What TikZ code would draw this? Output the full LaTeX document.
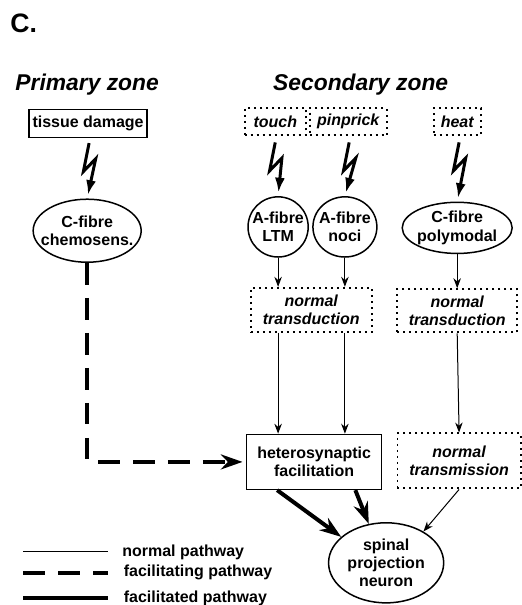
\documentclass[tikz,border=0pt]{standalone}
\usepackage{fontspec}
\setmainfont{Liberation Sans}
\usetikzlibrary{arrows.meta, shapes.geometric}

\begin{document}
\begin{tikzpicture}[
        font=\fontsize{9.6}{11}\selectfont\bfseries,
        solidbox/.style={draw, line width=0.9pt, inner sep=0pt, align=center},
        dotbox/.style={draw, line width=1.2pt, dash pattern=on 1.2pt off 2.4pt, inner sep=0pt, align=center, font=\fontsize{9.6}{11}\selectfont\bfseries\itshape},
        cell/.style={draw, ellipse, line width=0.9pt, inner xsep=-5pt, inner ysep=0pt, align=center},
        zone/.style={font=\fontsize{13.7}{16}\selectfont\bfseries\itshape, anchor=west, inner sep=0pt},
        bolt/.style={line width=1.8pt, -{Latex[length=9pt,width=6pt]}, shorten >=2pt},
        normal/.style={line width=0.6pt, -{Stealth[length=6pt,width=4.5pt]}},
        facilitating/.style={line width=2.4pt, dash pattern=on 13pt off 8pt},
        facilitated/.style={line width=2.4pt, -{Stealth[length=13pt,width=9pt]}},
    ]
        \useasboundingbox (0,0) rectangle (11.0,12.77);
        % Titles
        \node[anchor=west, inner sep=0pt, font=\fontsize{16}{18}\selectfont\bfseries] (panel) at (0.21,12.27) {C.};
        \node[zone] (primary) at (0.32,10.98) {Primary zone};
        \node[zone] (secondary) at (5.76,10.98) {Secondary zone};
        % Stimuli
        \node[solidbox, minimum width=2.49cm, minimum height=0.59cm] (tissue) at (1.86,10.16) {tissue damage};
        \node[dotbox, minimum width=1.29cm, minimum height=0.57cm] (touch) at (5.81,10.20) {touch};
        \node[dotbox, minimum width=1.63cm, minimum height=0.57cm] (pinprick) at (7.35,10.20) {pinprick};
        \node[dotbox, minimum width=0.99cm, minimum height=0.57cm] (heat) at (9.65,10.20) {heat};
        % Afferent fibres
        \node[cell, minimum width=2.28cm, minimum height=1.33cm] (chemo) at (1.84,7.90) {C-fibre\\chemosens.};
        \node[cell, minimum width=1.27cm, minimum height=1.27cm] (ltm) at (5.87,7.98) {A-fibre\\LTM};
        \node[cell, minimum width=1.35cm, minimum height=1.27cm] (noci) at (7.28,7.98) {A-fibre\\noci};
        \node[cell, minimum width=2.32cm, minimum height=1.08cm] (poly) at (9.65,7.96) {C-fibre\\polymodal};
        % Processing
        \node[dotbox, minimum width=2.55cm, minimum height=0.93cm] (trans1) at (6.57,6.23) {normal\\transduction};
        \node[dotbox, minimum width=2.53cm, minimum height=0.91cm] (trans2) at (9.65,6.21) {normal\\transduction};
        \node[solidbox, minimum width=2.85cm, minimum height=1.16cm] (hetero) at (6.63,3.02) {heterosynaptic\\facilitation};
        \node[dotbox, minimum width=2.6cm, minimum height=1.16cm] (transm) at (9.69,3.04) {normal\\transmission};
        \node[cell, minimum width=2.43cm, minimum height=1.69cm] (spinal) at (8.15,0.89) {spinal\\projection\\neuron};
        % Stimulus bolts
        \draw[bolt] (tissue.south) ++(0.02,-0.1) -- ++(-0.12,-0.6) -- ++(0.26,0.27) -- (chemo.north);
        \draw[bolt] (touch.south) ++(0,-0.13) -- ++(-0.12,-0.6) -- ++(0.26,0.27) -- (ltm.north);
        \draw[bolt] (pinprick.south) ++(0.02,-0.13) -- ++(-0.12,-0.6) -- ++(0.26,0.27) -- (noci.north);
        \draw[bolt] (heat.south) ++(0.04,-0.13) -- ++(-0.12,-0.6) -- ++(0.26,0.27) -- (poly.north);
        % Normal pathways
        \draw[normal] (ltm.south) -- (ltm.south |- trans1.north);
        \draw[normal] (noci.south) -- (noci.south |- trans1.north);
        \draw[normal] (poly.south) -- (trans2.north);
        \draw[normal] (ltm.south |- trans1.south) -- (ltm.south |- hetero.north);
        \draw[normal] (noci.south |- trans1.south) -- (noci.south |- hetero.north);
        \draw[normal] (trans2.south) -- (transm.north);
        \draw[normal] (transm.south) -- (spinal.40);
        % Facilitating pathway
        \coordinate (corner) at (chemo.south |- hetero.west);
        \draw[facilitating, -{Stealth[length=13pt,width=9pt]}, shorten >=2pt] (chemo.south) -- (corner) -- (hetero.west);
        % Facilitated pathways
        \draw[facilitated] ([xshift=-0.78cm]hetero.south) -- (spinal.150);
        \draw[facilitated] ([xshift=0.87cm]hetero.south) -- (spinal.114);
        % Legend
        \draw[line width=0.6pt] (0.49,1.12) -- (2.28,1.12) node[right, xshift=5pt] (lnormal) {normal pathway};
        \draw[facilitating] (0.49,0.68) -- (2.28,0.68) node[right, xshift=5pt] (lfacing) {facilitating pathway};
        \draw[line width=2.4pt] (0.49,0.15) -- (2.28,0.15) node[right, xshift=5pt] (lfaced) {facilitated pathway};
    \end{tikzpicture}
\end{document}
